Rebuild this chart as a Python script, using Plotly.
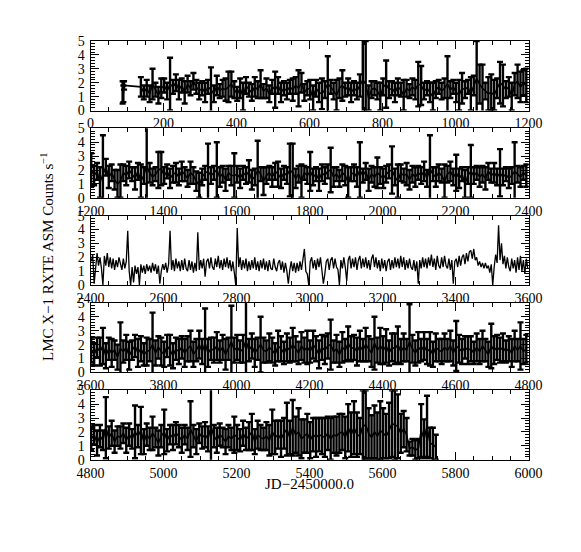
import plotly.graph_objects as go
from plotly.subplots import make_subplots

# ---------------- data ----------------
t1 = [88, 90, 92,
      138, 146, 154, 162, 170, 178, 186, 194, 202, 210,
      218, 226, 234, 242, 250, 258, 266, 274, 282, 290,
      298, 306, 314, 322, 330, 338, 346, 354, 362, 370,
      378, 386, 394, 402, 410, 418, 426, 434, 442, 450,
      458, 466, 474, 482, 490, 498, 506, 514, 522, 530,
      538, 546, 554, 562, 570, 578, 586, 594, 602, 610,
      618, 626, 634, 642, 650, 658, 666, 674, 682, 690,
      698, 706, 714, 722, 730, 738, 746, 754, 762, 770,
      778, 786, 794, 802, 810, 818, 826, 834, 842, 850,
      858, 866, 874, 882, 890, 898, 906, 914, 922, 930,
      938, 946, 954, 962, 970, 978, 986, 994, 1002, 1010,
      1018, 1026, 1034, 1042, 1050, 1058, 1066, 1074, 1082, 1090,
      1098, 1106, 1114, 1122, 1130, 1138, 1146, 1154, 1162, 1170,
      1178, 1186, 1194]
r1 = [1.3, 1.2, 1.8,
      1.7, 1.3, 1.6, 1.2, 1.9, 1.5, 1.1, 1.6, 1.8, 1.4,
      1.9, 1.7, 2.0, 1.5, 1.8, 1.3, 1.9, 1.6, 2.1, 1.7,
      1.4, 1.6, 1.3, 1.7, 1.5, 1.2, 1.8, 1.4, 1.6, 1.5,
      1.7, 1.9, 1.5, 1.2, 1.6, 1.0, 1.8, 1.5, 1.3, 1.7,
      1.5, 1.9, 1.4, 1.6, 1.2, 1.7, 1.5, 1.8, 1.3, 1.6,
      1.4, 1.7, 1.5, 1.8, 1.6, 2.0, 1.3, 1.6, 1.5, 0.9,
      1.6, 1.3, 1.2, 1.5, 1.9, 1.7, 1.4, 1.1, 1.6, 1.8,
      1.5, 1.7, 1.3, 1.6, 1.4, 1.8, 2.2, 1.9, 0.9, 1.5,
      1.6, 1.4, 1.0, 1.7, 1.9, 1.5, 1.6, 1.3, 1.7, 1.5,
      1.1, 1.6, 1.4, 1.7, 1.5, 1.9, 1.8, 1.4, 1.6, 1.3,
      1.0, 1.5, 1.7, 1.4, 1.6, 1.9, 1.5, 1.7, 1.3, 1.1,
      1.6, 1.5, 1.7, 1.2, 1.8, 2.3, 1.9, 1.6, 1.4, 1.2,
      1.3, 1.1, 1.6, 2.0, 1.8, 1.5, 1.7, 1.0, 1.9, 2.1,
      1.7, 2.0, 1.8]
e1 = [0.8, 0.6, 0.3,
      0.7, 0.5, 0.6, 0.6, 1.1, 0.5, 0.6, 0.7, 0.5, 0.6,
      1.9, 0.5, 0.6, 0.7, 0.5, 0.8, 0.6, 0.5, 0.6, 0.5,
      0.6, 0.5, 0.7, 0.5, 1.6, 0.6, 0.7, 0.5, 0.6, 0.8,
      1.1, 0.9, 0.6, 0.5, 0.7, 1.0, 0.6, 0.5, 0.6, 0.7,
      0.6, 1.0, 0.5, 0.7, 0.6, 0.5, 1.3, 0.6, 0.7, 0.5,
      0.6, 0.5, 0.8, 0.6, 1.3, 0.7, 0.6, 0.5, 0.7, 0.9,
      0.6, 0.7, 1.1, 0.6, 2.0, 0.5, 0.6, 1.1, 0.7, 1.1,
      0.5, 0.6, 0.7, 0.5, 0.6, 0.8, 2.9, 3.1, 0.9, 0.6,
      0.5, 0.6, 1.0, 0.6, 1.7, 0.6, 0.5, 0.7, 0.6, 0.5,
      1.1, 0.6, 0.5, 0.6, 0.7, 1.6, 1.4, 0.6, 0.5, 0.7,
      1.0, 0.6, 0.5, 0.6, 0.7, 2.0, 0.6, 0.5, 0.7, 1.1,
      1.1, 0.6, 0.5, 1.2, 0.7, 2.7, 1.4, 1.7, 0.6, 1.2,
      1.3, 1.1, 0.7, 1.5, 1.5, 0.6, 0.7, 1.0, 0.8, 1.2,
      1.1, 0.9, 1.2]

t2 = [1202, 1210, 1218, 1226, 1234, 1242, 1250, 1258, 1266, 1274,
      1282, 1290, 1298, 1306, 1314, 1322, 1330, 1338, 1346, 1354,
      1362, 1370, 1378, 1386, 1394, 1402, 1410, 1418, 1426, 1434,
      1442, 1450, 1458, 1466, 1474, 1482, 1490, 1498, 1506, 1514,
      1522, 1530, 1538, 1546, 1554, 1562, 1570, 1578, 1586, 1594,
      1602, 1610, 1618, 1626, 1634, 1642, 1650, 1658, 1666, 1674,
      1682, 1690, 1698, 1706, 1714, 1722, 1730, 1738, 1746, 1754,
      1762, 1770, 1778, 1786, 1794, 1802, 1810, 1818, 1826, 1834,
      1842, 1850, 1858, 1866, 1874, 1882, 1890, 1898, 1906, 1914,
      1922, 1930, 1938, 1946, 1954, 1962, 1970, 1978, 1986, 1994,
      2002, 2010, 2018, 2026, 2034, 2042, 2050, 2058, 2066, 2074,
      2082, 2090, 2098, 2106, 2114, 2122, 2130, 2138, 2146, 2154,
      2162, 2170, 2178, 2186, 2194, 2202, 2210, 2218, 2226, 2234,
      2242, 2250, 2258, 2266, 2274, 2282, 2290, 2298, 2306, 2314,
      2322, 2330, 2338, 2346, 2354, 2362, 2370, 2378, 2386, 2394]
r2 = [2.0, 1.6, 1.9, 1.1, 1.7, 2.2, 1.5, 1.8, 1.3, 1.0,
      1.2, 1.8, 1.6, 2.0, 1.7, 1.4, 1.9, 1.2, 1.6, 2.3,
      1.8, 1.5, 1.7, 2.0, 2.1, 1.6, 1.9, 1.4, 1.7, 1.8,
      1.5, 1.9, 1.7, 1.4, 1.8, 1.6, 1.2, 0.9, 1.5, 1.8,
      1.9, 1.6, 1.8, 2.0, 1.5, 1.7, 1.3, 1.8, 1.6, 1.6,
      1.7, 1.4, 1.8, 1.6, 1.9, 1.3, 1.5, 2.0, 1.7, 1.2,
      1.6, 1.8, 1.5, 1.9, 1.7, 1.4, 1.8, 1.6, 2.0, 1.8,
      1.4, 1.7, 1.2, 1.8, 1.6, 1.9, 1.5, 1.7, 1.3, 1.8,
      1.6, 1.9, 2.0, 1.5, 1.7, 1.4, 1.8, 1.6, 1.1, 1.7,
      1.8, 1.5, 2.0, 1.6, 1.9, 1.3, 1.7, 1.5, 1.8, 1.6,
      1.4, 1.7, 1.9, 2.0, 1.5, 1.2, 1.8, 1.6, 1.7, 1.3,
      1.7, 1.5, 1.8, 1.6, 1.9, 1.4, 2.1, 1.7, 1.5, 1.8,
      1.6, 1.2, 1.7, 1.9, 1.5, 1.8, 1.4, 1.7, 1.0, 1.6,
      1.9, 1.6, 1.8, 1.5, 1.7, 1.4, 1.9, 1.6, 1.8, 1.5,
      1.8, 1.5, 1.7, 1.4, 1.6, 1.9, 1.7, 1.5, 1.8, 1.6]
e2 = [1.2, 0.7, 0.6, 1.1, 2.8, 0.6, 0.8, 0.6, 0.7, 1.0,
      1.2, 0.6, 0.7, 0.6, 0.5, 0.8, 0.6, 1.2, 0.6, 2.9,
      0.7, 0.6, 0.5, 1.3, 1.2, 0.6, 0.5, 0.7, 0.6, 0.7,
      0.6, 0.7, 0.5, 0.6, 0.8, 0.6, 0.7, 0.9, 0.6, 0.5,
      2.0, 0.6, 0.5, 2.0, 0.7, 0.6, 0.8, 0.5, 0.7, 1.6,
      0.6, 0.7, 0.5, 0.6, 0.8, 0.7, 0.6, 2.1, 0.5, 1.0,
      0.6, 0.5, 0.7, 0.6, 0.9, 0.7, 0.5, 0.6, 1.9, 2.1,
      0.7, 0.6, 1.2, 0.5, 0.6, 1.4, 0.6, 0.5, 0.8, 0.6,
      0.6, 0.5, 1.6, 0.7, 0.5, 0.6, 0.6, 0.7, 1.1, 0.5,
      0.6, 0.7, 2.0, 0.5, 0.6, 0.8, 0.6, 0.7, 1.1, 0.6,
      0.7, 0.6, 0.5, 1.7, 0.6, 1.2, 0.6, 0.5, 0.8, 0.7,
      0.6, 0.7, 0.5, 0.6, 0.7, 0.6, 2.4, 0.5, 0.7, 0.6,
      0.5, 1.2, 0.6, 0.7, 0.6, 1.3, 0.7, 0.5, 1.0, 0.6,
      1.9, 0.6, 0.5, 0.7, 0.6, 0.8, 0.6, 0.5, 0.7, 0.6,
      1.7, 0.6, 0.5, 0.7, 0.6, 2.1, 0.6, 0.7, 0.5, 0.8]

t3 = [2402, 2406, 2410, 2414, 2418, 2422, 2426, 2430, 2434, 2438,
      2442, 2446, 2450, 2454, 2458, 2462, 2466, 2470, 2474, 2478,
      2482, 2486, 2490, 2494, 2498, 2502, 2506, 2510, 2514, 2518,
      2522, 2526, 2530, 2534, 2538, 2542, 2546, 2550, 2554, 2558,
      2562, 2566, 2570, 2574, 2578, 2582, 2586, 2590, 2594, 2598,
      2602, 2606, 2610, 2614, 2618, 2622, 2626, 2630, 2634, 2638,
      2642, 2646, 2650, 2654, 2658, 2662, 2666, 2670, 2674, 2678,
      2682, 2686, 2690, 2694, 2698, 2702, 2706, 2710, 2714, 2718,
      2722, 2726, 2730, 2734, 2738, 2742, 2746, 2750, 2754, 2758,
      2762, 2766, 2770, 2774, 2778, 2782, 2786, 2790, 2794, 2798,
      2802, 2806, 2810, 2814, 2818, 2822, 2826, 2830, 2834, 2838,
      2842, 2846, 2850, 2854, 2858, 2862, 2866, 2870, 2874, 2878,
      2882, 2886, 2890, 2894, 2898, 2902, 2906, 2910, 2914, 2918,
      2922, 2926, 2930, 2934, 2938, 2942, 2946, 2950, 2954, 2958,
      2962, 2966, 2970, 2974, 2978, 2982, 2986, 2990, 2994, 2998,
      3002, 3006, 3010, 3014, 3018, 3022, 3026, 3030, 3034, 3038,
      3042, 3046, 3050, 3054, 3058, 3062, 3066, 3070, 3074, 3078,
      3082, 3086, 3090, 3094, 3098, 3102, 3106, 3110, 3114, 3118,
      3122, 3126, 3130, 3134, 3138, 3142, 3146, 3150, 3154, 3158,
      3162, 3166, 3170, 3174, 3178, 3182, 3186, 3190, 3194, 3198,
      3202, 3206, 3210, 3214, 3218, 3222, 3226, 3230, 3234, 3238,
      3242, 3246, 3250, 3254, 3258, 3262, 3266, 3270, 3274, 3278,
      3282, 3286, 3290, 3294, 3298, 3302, 3306, 3310, 3314, 3318,
      3322, 3326, 3330, 3334, 3338, 3342, 3346, 3350, 3354, 3358,
      3362, 3366, 3370, 3374, 3378, 3382, 3386, 3390, 3394, 3398,
      3402, 3406, 3410, 3414, 3418, 3422, 3426, 3430, 3434, 3438,
      3442, 3446, 3450, 3454, 3458, 3462, 3466, 3470, 3474, 3478,
      3482, 3486, 3490, 3494, 3498, 3502, 3506, 3510, 3514, 3518,
      3522, 3526, 3530, 3534, 3538, 3542, 3546, 3550, 3554, 3558,
      3562, 3566, 3570, 3574, 3578, 3582, 3586, 3590, 3594, 3598]
r3 = [1.7, 2.2, 0.1, 1.5, 2.3, 1.4, 2.0, 1.2, 0.0, 2.1,
      1.4, 2.3, 1.3, 2.0, 1.2, 1.9, 1.1, 1.8, 1.3, 2.0,
      1.4, 1.1, 1.9, 1.2, 1.7, 3.9, 1.0, 0.0, 1.3, 0.2,
      1.4, 0.8, 1.3, 0.0, 1.5, 0.9, 1.4, 0.8, 1.5, 1.0,
      1.4, 0.9, 1.6, 1.0, 1.5, 0.8, 1.4, 0.1, 1.0, 1.5,
      1.1, 1.6, 0.9, 1.5, 3.9, 1.1, 1.8, 1.0, 1.9, 1.2,
      1.7, 1.0, 1.8, 1.1, 1.9, 1.2, 1.0, 1.8, 1.1, 1.7,
      0.9, 1.6, 1.0, 3.8, 1.1, 1.8, 1.2, 1.9, 0.6, 1.7,
      1.9, 1.2, 2.0, 1.3, 1.1, 1.9, 1.3, 2.1, 1.2, 1.8,
      1.1, 1.9, 1.3, 2.0, 1.2, 1.8, 1.0, 1.7, 0.9, 0.0,
      4.1, 1.3, 2.0, 1.1, 1.8, 1.2, 1.9, 1.0, 1.7, 1.1,
      1.8, 1.2, 2.0, 1.1, 1.7, 1.0, 1.8, 1.2, 1.9, 1.1,
      1.7, 1.0, 1.8, 1.2, 1.1, 1.9, 1.3, 1.0, 1.6, 1.8,
      1.1, 1.7, 0.9, 1.6, 1.0, 0.1, 1.1, 1.7, 1.0, 1.6,
      0.9, 1.6, 1.0, 1.7, 1.1, 1.8, 2.6, 1.0, 0.8, 0.0,
      1.7, 2.0, 1.2, 1.8, 1.1, 1.9, 1.3, 2.0, 1.2, 0.1,
      0.8, 1.7, 1.9, 1.1, 1.8, 2.0, 1.2, 1.9, 1.3, 1.1,
      0.0, 1.8, 1.2, 2.0, 1.3, 0.3, 1.8, 2.1, 1.2, 1.9,
      1.3, 2.0, 1.1, 1.8, 2.1, 1.2, 1.9, 1.3, 2.0, 1.2,
      1.8, 1.1, 1.9, 2.2, 1.3, 2.0, 1.2, 1.8, 1.0, 1.9,
      1.2, 1.8, 1.0, 1.7, 1.9, 1.1, 1.8, 1.2, 2.0, 1.3,
      1.9, 1.2, 2.1, 1.3, 2.0, 1.1, 1.8, 1.2, 1.9, 1.3,
      1.1, 1.8, 1.0, 1.7, 0.1, 1.8, 1.2, 2.0, 1.3, 1.9,
      1.2, 2.0, 1.4, 2.2, 1.3, 1.9, 1.1, 2.1, 1.4, 1.2,
      2.0, 1.3, 2.1, 1.4, 1.2, 1.9, 1.1, 1.8, 0.1, 1.7,
      1.9, 1.3, 2.1, 1.4, 2.0, 2.2, 1.5, 2.3, 1.7, 2.4,
      2.5, 1.9, 2.6, 1.8, 2.0, 1.4, 1.7, 1.3, 1.6, 1.2,
      1.6, 1.2, 1.4, 0.9, 1.5, 0.0, 1.3, 2.2, 1.6, 4.3,
      1.8, 3.0, 1.5, 2.1, 1.2, 2.0, 1.3, 1.0, 1.9, 1.2,
      1.8, 0.9, 2.0, 1.1, 2.1, 1.0, 1.8, 0.8, 1.9, 1.2]

t4 = [3602, 3610, 3618, 3626, 3634, 3642, 3650, 3658, 3666, 3674,
      3682, 3690, 3698, 3706, 3714, 3722, 3730, 3738, 3746, 3754,
      3762, 3770, 3778, 3786, 3794, 3802, 3810, 3818, 3826, 3834,
      3842, 3850, 3858, 3866, 3874, 3882, 3890, 3898, 3906, 3914,
      3922, 3930, 3938, 3946, 3954, 3962, 3970, 3978, 3986, 3994,
      4002, 4010, 4018, 4026, 4034, 4042, 4050, 4058, 4066, 4074,
      4082, 4090, 4098, 4106, 4114, 4122, 4130, 4138, 4146, 4154,
      4162, 4170, 4178, 4186, 4194, 4202, 4210, 4218, 4226, 4234,
      4242, 4250, 4258, 4266, 4274, 4282, 4290, 4298, 4306, 4314,
      4322, 4330, 4338, 4346, 4354, 4362, 4370, 4378, 4386, 4394,
      4402, 4410, 4418, 4426, 4434, 4442, 4450, 4458, 4466, 4474,
      4482, 4490, 4498, 4506, 4514, 4522, 4530, 4538, 4546, 4554,
      4562, 4570, 4578, 4586, 4594, 4602, 4610, 4618, 4626, 4634,
      4642, 4650, 4658, 4666, 4674, 4682, 4690, 4698, 4706, 4714,
      4722, 4730, 4738, 4746, 4754, 4762, 4770, 4778, 4786, 4794]
r4 = [1.6, 1.3, 1.8, 1.5, 1.9, 1.2, 1.7, 1.4, 1.6, 1.1,
      1.7, 1.5, 1.8, 1.2, 1.6, 1.9, 1.4, 1.7, 1.3, 1.5,
      1.6, 2.0, 1.4, 1.8, 1.5, 1.3, 1.9, 1.6, 1.2, 1.7,
      1.5, 1.8, 1.4, 1.7, 1.9, 1.3, 1.6, 2.0, 1.5, 2.1,
      1.4, 1.7, 1.6, 1.9, 1.5, 1.8, 1.3, 1.7, 2.2, 1.6,
      1.8, 1.5, 1.7, 2.3, 1.6, 1.9, 1.4, 1.7, 2.0, 1.6,
      1.5, 1.8, 1.6, 1.3, 1.9, 1.7, 1.4, 1.8, 1.6, 2.0,
      1.7, 1.4, 1.9, 1.6, 1.8, 1.5, 2.0, 1.7, 1.3, 1.8,
      1.6, 1.9, 2.0, 1.5, 1.7, 1.3, 1.8, 1.6, 2.1, 1.7,
      1.8, 1.5, 1.9, 1.6, 2.0, 1.7, 1.4, 2.1, 1.6, 1.9,
      1.6, 1.9, 1.4, 1.8, 1.7, 2.0, 1.5, 1.8, 1.6, 2.2,
      1.7, 1.4, 1.8, 1.6, 1.9, 1.5, 1.7, 1.3, 1.8, 1.6,
      1.5, 1.8, 1.6, 1.9, 1.4, 1.9, 1.7, 1.5, 1.8, 1.6,
      1.7, 1.4, 1.8, 1.5, 1.9, 1.6, 1.3, 1.9, 1.6, 1.8,
      1.6, 1.8, 1.5, 1.7, 1.4, 1.9, 1.6, 1.9, 1.5, 1.7]
e4 = [0.9, 0.8, 0.7, 1.0, 1.3, 0.9, 0.8, 1.0, 0.7, 0.9,
      1.9, 0.8, 0.9, 1.0, 0.7, 0.8, 1.0, 0.9, 0.8, 1.0,
      0.8, 2.3, 0.9, 0.8, 1.0, 0.9, 0.8, 1.1, 0.9, 0.8,
      0.9, 0.8, 1.0, 0.9, 1.1, 0.9, 0.8, 1.0, 0.9, 2.5,
      1.0, 0.8, 0.9, 1.0, 0.8, 0.9, 1.1, 0.8, 2.6, 0.9,
      0.9, 0.8, 1.0, 2.9, 0.8, 0.9, 1.0, 0.8, 2.0, 0.9,
      0.8, 1.0, 0.9, 0.8, 1.1, 0.9, 0.8, 1.0, 0.9, 1.2,
      0.9, 0.8, 1.0, 0.9, 1.2, 0.8, 1.0, 0.9, 1.0, 0.9,
      1.0, 0.9, 1.8, 0.8, 1.0, 0.9, 1.1, 0.8, 1.2, 0.9,
      0.9, 1.0, 1.1, 0.8, 1.2, 0.9, 1.0, 1.9, 0.9, 1.3,
      1.0, 1.2, 0.9, 1.0, 1.1, 1.3, 0.9, 1.0, 0.8, 2.7,
      1.0, 0.9, 1.1, 0.8, 1.0, 0.9, 1.2, 0.9, 1.0, 0.8,
      0.9, 1.0, 0.8, 1.1, 0.9, 1.8, 1.0, 0.9, 0.8, 1.0,
      0.9, 0.8, 1.0, 0.9, 1.1, 0.8, 0.9, 1.6, 1.0, 0.9,
      0.9, 1.0, 0.8, 0.9, 1.0, 1.1, 0.8, 1.7, 0.9, 1.0]

t5 = [4802, 4810, 4818, 4826, 4834, 4842, 4850, 4858, 4866, 4874,
      4882, 4890, 4898, 4906, 4914, 4922, 4930, 4938, 4946, 4954,
      4962, 4970, 4978, 4986, 4994, 5002, 5010, 5018, 5026, 5034,
      5042, 5050, 5058, 5066, 5074, 5082, 5090, 5098, 5106, 5114,
      5122, 5130, 5138, 5146, 5154, 5162, 5170, 5178, 5186, 5194,
      5202, 5210, 5218, 5226, 5234, 5242, 5250, 5258, 5266, 5274,
      5282, 5290, 5298, 5306, 5314, 5322, 5330, 5338, 5346, 5354,
      5362, 5370, 5378, 5386, 5394, 5402, 5410, 5418, 5426, 5434,
      5442, 5450, 5458, 5466, 5474, 5482, 5490, 5498, 5506, 5514,
      5522, 5530, 5538, 5546, 5554, 5562, 5570, 5578, 5586, 5594,
      5602, 5610, 5618, 5626, 5634, 5642, 5650, 5658, 5666, 5674,
      5682, 5690, 5698, 5706, 5714, 5722, 5730, 5738, 5746]
r5 = [1.5, 1.8, 1.2, 1.7, 1.4, 2.3, 1.6, 1.9, 1.3, 1.7,
      1.6, 1.9, 1.4, 1.8, 1.5, 2.0, 1.7, 2.1, 1.3, 1.8,
      1.5, 1.9, 1.6, 1.2, 1.7, 2.0, 1.4, 1.8, 1.6, 1.9,
      1.7, 1.4, 1.8, 1.5, 2.2, 1.7, 1.3, 1.9, 1.6, 1.8,
      1.5, 2.4, 1.7, 1.4, 1.8, 1.6, 1.3, 1.7, 1.5, 1.8,
      1.6, 1.4, 1.9, 1.5, 1.7, 2.0, 1.3, 1.8, 1.6, 1.5,
      1.7, 1.4, 2.0, 1.6, 1.8, 1.5, 1.9, 2.2, 1.6, 2.3,
      1.8, 2.0, 1.5, 1.7, 1.9, 1.4, 1.8, 1.6, 1.8, 1.7,
      1.6, 1.9, 1.5, 1.8, 1.7, 1.9, 2.0, 1.6, 2.3, 1.8,
      2.3, 1.8, 1.7, 2.4, 2.5, 1.9, 1.6, 2.0, 1.7, 2.1,
      1.9, 1.7, 2.1, 2.6, 2.5, 2.4, 1.9, 2.2, 1.8, 0.8,
      0.9, 0.7, 0.8, 2.1, 1.5, 2.4, 1.2, 1.1, 0.9]
e5 = [0.8, 0.7, 0.9, 0.8, 0.7, 2.2, 0.8, 0.9, 0.8, 0.7,
      0.8, 0.7, 0.9, 0.8, 0.7, 1.9, 0.8, 1.7, 0.9, 0.8,
      0.8, 1.2, 0.7, 0.9, 0.8, 1.6, 0.8, 0.7, 0.9, 0.8,
      0.8, 0.9, 0.7, 0.8, 2.0, 0.8, 0.9, 0.7, 0.8, 0.9,
      0.9, 2.8, 0.8, 0.9, 0.8, 0.7, 0.9, 0.8, 0.8, 1.3,
      0.9, 0.8, 0.9, 0.8, 1.0, 1.3, 0.9, 1.0, 0.9, 0.8,
      1.0, 1.1, 1.6, 1.2, 1.0, 1.3, 1.1, 1.9, 1.2, 2.0,
      1.3, 1.7, 1.4, 1.2, 1.4, 1.3, 1.2, 1.4, 1.2, 1.3,
      1.4, 1.2, 1.5, 1.3, 1.4, 1.4, 1.3, 1.5, 1.7, 1.6,
      1.9, 1.6, 1.3, 2.6, 2.5, 1.8, 1.6, 1.9, 1.7, 2.1,
      1.8, 1.6, 2.0, 2.4, 2.5, 2.3, 1.4, 1.3, 1.2, 0.5,
      0.6, 0.7, 0.7, 1.9, 1.4, 2.2, 1.1, 1.2, 0.9]

x_ranges = [[0, 1200], [1200, 2400], [2400, 3600], [3600, 4800], [4800, 6000]]
y_ticks = [0, 1, 2, 3, 4, 5]
y_title = "LMC X\u22121 RXTE ASM Counts s<sup>\u22121</sup>"
x_title = "JD\u22122450000.0"

# ---------------- figure ----------------
# the page body adds an 8 px offset, so positions below are reference - 8 px
OFF = 8
W, H = 581 - OFF, 552 - OFF
LEFT, RIGHT = 90.5 - OFF, 528.5 - OFF
TOPS = [41.0 - OFF, 128.3 - OFF, 215.6 - OFF, 302.9 - OFF, 390.2 - OFF]
PH = 69.5
FONT = "Liberation Serif"

fig = make_subplots(rows=5, cols=1)

series = [(t1, r1, e1), (t2, r2, e2), (t3, r3, None), (t4, r4, e4), (t5, r5, e5)]
for i, (t, r, e) in enumerate(series):
    n = min(len(t), len(r), len(e) if e is not None else len(r))
    kw = {}
    if e is not None:
        kw["error_y"] = dict(type="data", array=e[:n], visible=True,
                             color="black", thickness=2.4, width=3)
        lw = 1.6
    else:
        lw = 1.3
    fig.add_trace(go.Scatter(x=t[:n], y=r[:n], mode="lines",
                             line=dict(color="black", width=lw),
                             showlegend=False, hoverinfo="skip", **kw),
                  row=i + 1, col=1)

for i in range(5):
    top = TOPS[i]
    bot = top + PH
    fig.update_xaxes(row=i + 1, col=1,
                     domain=[LEFT / W, RIGHT / W], automargin=False,
                     range=x_ranges[i], tickmode="linear", tick0=0, dtick=200,
                     ticks="inside", ticklen=8, tickwidth=1, tickcolor="black",
                     showline=True, linecolor="black", linewidth=1, mirror="ticks",
                     showgrid=False, zeroline=False,
                     minor=dict(dtick=50, ticks="inside", ticklen=4,
                                tickcolor="black", tickwidth=1, showgrid=False),
                     tickfont=dict(family=FONT, size=14, color="black"))
    fig.update_yaxes(row=i + 1, col=1,
                     domain=[1 - bot / H, 1 - top / H], automargin=False,
                     range=[0, 5], tickmode="array", tickvals=y_ticks,
                     ticktext=[str(v) for v in y_ticks],
                     ticks="inside", ticklen=8, tickwidth=1, tickcolor="black",
                     showline=True, linecolor="black", linewidth=1, mirror="ticks",
                     showgrid=False, zeroline=False,
                     minor=dict(dtick=0.2, tick0=0, ticks="inside", ticklen=4,
                                tickcolor="black", tickwidth=1, showgrid=False),
                     tickfont=dict(family=FONT, size=14, color="black"),
                     ticklabelstandoff=2)

fig.add_annotation(text=y_title, textangle=-90, xref="paper", yref="paper",
                   x=(47 - OFF) / W, y=1 - (257 - OFF) / H, showarrow=False,
                   xanchor="center", yanchor="middle",
                   font=dict(family=FONT, size=15, color="black"))
fig.add_annotation(text=x_title, xref="paper", yref="paper",
                   x=(LEFT + RIGHT) / 2 / W, y=1 - (484 - OFF) / H, showarrow=False,
                   xanchor="center", yanchor="middle",
                   font=dict(family=FONT, size=15, color="black"))

fig.update_layout(width=W, height=H, margin=dict(l=0, r=0, t=0, b=0),
                  paper_bgcolor="white", plot_bgcolor="white")

fig.write_html("out.html")
